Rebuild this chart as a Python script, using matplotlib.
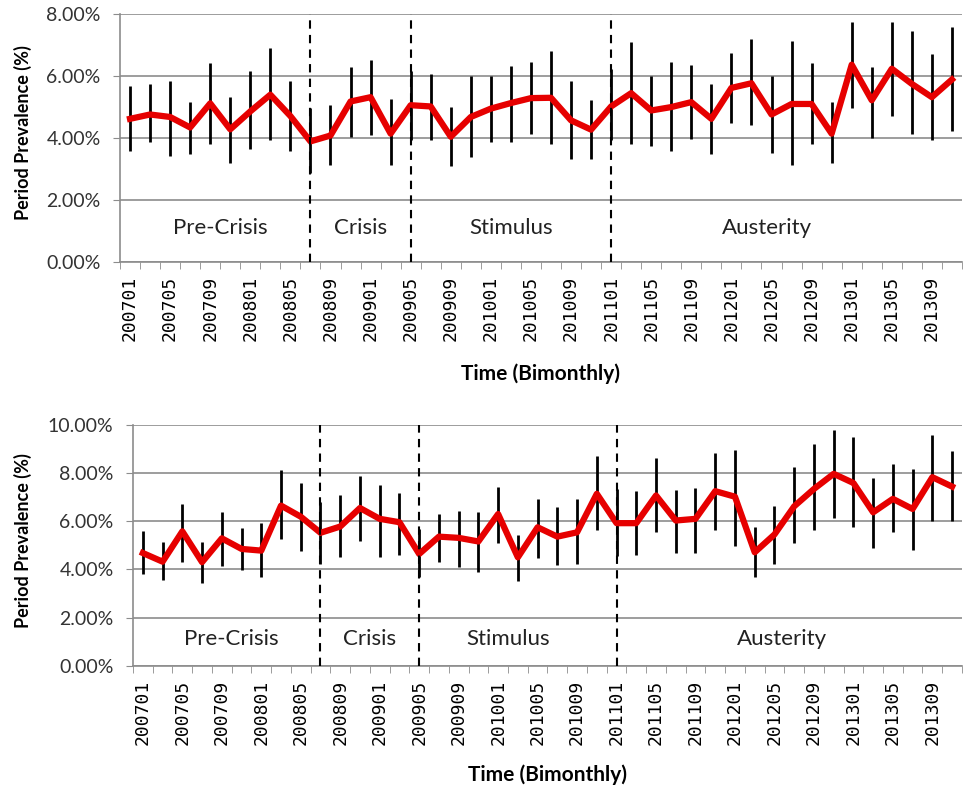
import numpy as np
import matplotlib
matplotlib.use("Agg")
import matplotlib.pyplot as plt
from matplotlib.ticker import FuncFormatter

plt.rcParams['font.family'] = ['Lato', 'DejaVu Sans']

# bimonthly periods 200701 .. 201311
periods = [f"{y}{m:02d}" for y in range(2007, 2014) for m in (1, 3, 5, 7, 9, 11)]

# top panel: prevalence (%), upper and lower error bar ends
top_val = [4.62, 4.76, 4.68, 4.34, 5.12, 4.28, 4.86, 5.40, 4.71, 3.89,
           4.08, 5.18, 5.32, 4.14, 5.06, 5.02, 4.04, 4.68, 4.95, 5.13,
           5.29, 5.30, 4.57, 4.27, 5.02, 5.45, 4.89, 5.00, 5.16, 4.62,
           5.62, 5.77, 4.76, 5.10, 5.10, 4.14, 6.37, 5.22, 6.24, 5.75,
           5.32, 5.89]
top_hi = [5.67, 5.73, 5.84, 5.17, 6.42, 5.34, 6.18, 6.91, 5.85, 4.97,
          5.06, 6.30, 6.52, 5.25, 6.18, 6.06, 5.00, 6.01, 6.01, 6.34,
          6.46, 6.81, 5.85, 5.24, 6.24, 7.09, 6.01, 6.47, 6.37, 5.75,
          6.76, 7.20, 6.01, 7.15, 6.43, 5.16, 7.76, 6.29, 7.76, 7.47,
          6.70, 7.58]
top_lo = [3.58, 3.87, 3.42, 3.47, 3.81, 3.19, 3.65, 3.92, 3.58, 2.87,
          3.13, 4.02, 4.09, 3.14, 3.92, 3.92, 3.10, 3.37, 3.87, 3.87,
          4.14, 3.82, 3.31, 3.31, 3.92, 3.82, 3.74, 3.59, 3.98, 3.47,
          4.47, 4.43, 3.52, 3.13, 3.80, 3.19, 4.98, 4.00, 4.70, 4.14,
          3.92, 4.22]

# bottom panel
bot_val = [4.68, 4.32, 5.58, 4.30, 5.29, 4.85, 4.78, 6.65, 6.19, 5.52,
           5.78, 6.55, 6.10, 5.96, 4.64, 5.36, 5.31, 5.16, 6.30, 4.50,
           5.75, 5.36, 5.54, 7.14, 5.92, 5.92, 7.07, 6.03, 6.10, 7.25,
           7.02, 4.71, 5.45, 6.62, 7.34, 7.97, 7.59, 6.37, 6.93, 6.51,
           7.83, 7.44]
bot_hi = [5.58, 5.14, 6.72, 5.13, 6.37, 5.72, 5.93, 8.11, 7.59, 6.79,
          7.09, 7.90, 7.52, 7.18, 5.68, 6.29, 6.44, 6.37, 7.44, 5.43,
          6.93, 6.58, 6.93, 8.69, 7.32, 7.25, 8.62, 7.30, 7.39, 8.83,
          8.96, 5.78, 6.65, 8.24, 9.19, 9.77, 9.49, 7.80, 8.38, 8.17,
          9.60, 8.91]
bot_lo = [3.81, 3.58, 4.32, 3.44, 4.16, 3.98, 3.67, 5.27, 4.75, 4.23,
          4.53, 5.20, 4.53, 4.60, 3.67, 4.30, 4.12, 3.88, 5.11, 3.53,
          4.46, 4.19, 4.23, 5.64, 4.57, 4.61, 5.57, 4.67, 4.67, 5.64,
          4.96, 3.67, 4.23, 5.10, 5.64, 6.14, 5.75, 4.89, 5.54, 4.82,
          6.03, 6.00]

phase_names = ["Pre-Crisis", "Crisis", "Stimulus", "Austerity"]
phase_breaks = ["200807", "200905", "201101"]


def draw_panel(ax, val, hi, lo, ymax, label_pos, ylab_x):
    x = np.arange(len(periods))
    val = np.array(val)
    ax.vlines(x, lo, hi, color='black', lw=2, zorder=3)
    ax.plot(x, val, color='#e60000', lw=4.5, zorder=4)
    for p in phase_breaks:
        ax.axvline(periods.index(p), color='black', lw=1.5, ls=(0, (4, 3)), zorder=5)
    for name, xp in zip(phase_names, label_pos):
        ax.text(xp, 1.1, name, ha='center', va='center', fontsize=16, color='#222222')
    ax.set_xlim(-0.5, len(periods) - 0.5)
    ax.set_ylim(0, ymax)
    ax.set_yticks(np.arange(0, ymax + 0.01, 2))
    ax.yaxis.set_major_formatter(FuncFormatter(lambda v, _: f"{v:.2f}%"))
    ax.grid(axis='y', color='#8c8c8c', lw=1.2)
    ax.set_axisbelow(True)
    ax.set_xticks(x[::2])
    ax.set_xticklabels(periods[::2], rotation=90, family='DejaVu Sans Mono', fontsize=13)
    ax.set_xticks(np.arange(-0.5, len(periods), 1), minor=True)
    ax.tick_params(axis='x', which='major', length=0, pad=10)
    ax.tick_params(axis='x', which='minor', length=5, color='#8c8c8c', direction='out')
    ax.tick_params(axis='y', length=5, color='#8c8c8c', labelsize=14, pad=9,
                   labelcolor='#333333')
    for s in ('top', 'right'):
        ax.spines[s].set_visible(False)
    ax.spines['left'].set_color('#8c8c8c')
    ax.spines['bottom'].set_color('#8c8c8c')
    ax.spines['left'].set_linewidth(1.2)
    ax.spines['bottom'].set_linewidth(1.2)
    ax.set_ylabel("Period Prevalence (%)", fontweight='bold', fontsize=13)
    ax.yaxis.set_label_coords(ylab_x, 0.52)
    ax.set_xlabel("Time (Bimonthly)", fontweight='bold', fontsize=15)
    ax.xaxis.set_label_coords(0.5, -0.41)


fig = plt.figure(figsize=(9.7, 7.89), dpi=100)
ax1 = fig.add_axes([0.1237, 0.6683, 0.868, 0.3136])
ax2 = fig.add_axes([0.1371, 0.1563, 0.8546, 0.3051])

draw_panel(ax1, top_val, top_hi, top_lo, 8, [4.5, 11.5, 19, 31.8], -0.105)
draw_panel(ax2, bot_val, bot_hi, bot_lo, 10, [4.5, 11.5, 18.5, 32.4], -0.122)

fig.savefig("out.png", dpi=100)
